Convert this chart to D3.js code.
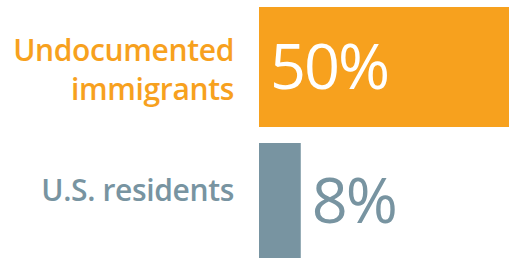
<!DOCTYPE html>
<html>
<head>
<meta charset="utf-8">
<script src="https://cdn.jsdelivr.net/npm/d3@7"></script>
<style>
  html, body { margin: 0; padding: 0; background: #fff; }
  svg { display: block; }
  text { font-family: "Open Sans", "Noto Sans", sans-serif; }
</style>
</head>
<body>
<svg id="chart" width="509" height="258"></svg>
<script>
const categories = ["Undocumented immigrants", "U.S. residents"];
const labelLines = [["Undocumented", "immigrants"], ["U.S. residents"]];
const values = [50, 8];
const valueLabels = ["50%", "8%"];
const colors = ["#F7A11E", "#7894A1"];

const svg = d3.select("#chart");

const x = d3.scaleLinear().domain([0, 50]).range([259, 520]);
const y = d3.scaleBand().domain(categories).range([7, 263]).paddingInner(16 / 136).paddingOuter(0);

svg.selectAll("rect.bar")
  .data(categories)
  .join("rect")
  .attr("class", "bar")
  .attr("x", x(0))
  .attr("y", d => y(d))
  .attr("width", (d, i) => x(values[i]) - x(0))
  .attr("height", y.bandwidth())
  .attr("fill", (d, i) => colors[i]);

// category labels
const labelFirstBaseline = [54, 58];
const lineHeight = 39;
categories.forEach((c, i) => {
  const t = svg.append("text")
    .attr("text-anchor", "end")
    .attr("fill", colors[i])
    .attr("font-size", 30)
    .attr("font-weight", 600)
    .attr("letter-spacing", -0.35);
  labelLines[i].forEach((line, j) => {
    t.append("tspan")
      .attr("x", 234)
      .attr("y", y(c) + labelFirstBaseline[i] + j * lineHeight)
      .text(line);
  });
});

// value labels
const valueBaseline = [82, 80];
categories.forEach((c, i) => {
  const inside = i === 0;
  svg.append("text")
    .attr("x", inside ? x(0) + 11 : x(values[i]) + 11)
    .attr("y", y(c) + valueBaseline[i])
    .attr("fill", inside ? "#ffffff" : colors[i])
    .attr("font-size", 63)
    .attr("font-weight", 500)
    .attr("letter-spacing", -2)
    .text(valueLabels[i]);
});
</script>
</body>
</html>
